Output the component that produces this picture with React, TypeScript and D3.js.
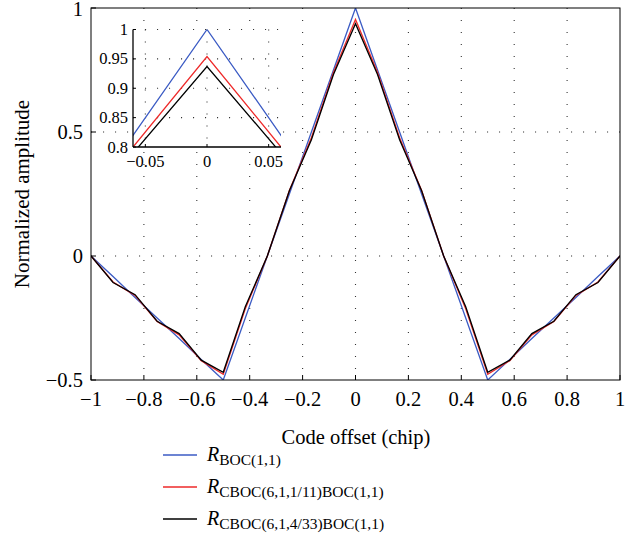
import React from 'react';
import * as d3 from 'd3';

// code offset grid (chip), kinks every 1/12 chip
const tau = [-1, -0.9167, -0.8333, -0.75, -0.6667, -0.5833, -0.5, -0.4167, -0.3333, -0.25, -0.1667, -0.0833, 0,
  0.0833, 0.1667, 0.25, 0.3333, 0.4167, 0.5, 0.5833, 0.6667, 0.75, 0.8333, 0.9167, 1];

const rBoc = [0, -0.083, -0.167, -0.25, -0.333, -0.417, -0.5, -0.25, 0, 0.25, 0.5, 0.75, 1,
  0.75, 0.5, 0.25, 0, -0.25, -0.5, -0.417, -0.333, -0.25, -0.167, -0.083, 0];

const rCboc11 = [0, -0.105, -0.159, -0.264, -0.318, -0.422, -0.477, -0.213, 0, 0.264, 0.477, 0.740, 0.954,
  0.740, 0.477, 0.264, 0, -0.213, -0.477, -0.422, -0.318, -0.264, -0.159, -0.105, 0];

const rCboc433 = [0, -0.107, -0.156, -0.263, -0.313, -0.420, -0.469, -0.205, 0, 0.263, 0.469, 0.732, 0.937,
  0.732, 0.469, 0.263, 0, -0.205, -0.469, -0.420, -0.313, -0.263, -0.156, -0.107, 0];

const xTicks = [-1, -0.8, -0.6, -0.4, -0.2, 0, 0.2, 0.4, 0.6, 0.8, 1];
const yTicks = [-0.5, 0, 0.5, 1];
const insetXTicks = [-0.05, 0, 0.05];
const insetYTicks = [0.8, 0.85, 0.9, 0.95, 1];

const series = [
  { name: 'BOC(1,1)', values: rBoc, color: '#3b5bc4' },
  { name: 'CBOC(6,1,1/11)BOC(1,1)', values: rCboc11, color: '#ee2a2a' },
  { name: 'CBOC(6,1,4/33)BOC(1,1)', values: rCboc433, color: '#000000' },
];

const FONT = '"Liberation Serif", "Times New Roman", serif';
const fmt = (v: number) => (v < 0 ? '\u2212' + String(-v) : String(v));

export default function App() {
  const x = d3.scaleLinear().domain([-1, 1]).range([91, 620]);
  const y = d3.scaleLinear().domain([-0.5, 1]).range([380, 8]);
  const ix = d3.scaleLinear().domain([-0.06, 0.06]).range([133, 281]);
  const iy = d3.scaleLinear().domain([0.8, 1]).range([147, 29.5]);

  const mainLine = (vals: number[]) =>
    d3.line<number>().x((_, i) => x(tau[i])).y(d => y(d))(vals) || '';
  const insetLine = (vals: number[]) =>
    d3.line<number>().x((_, i) => ix(tau[i])).y(d => iy(d))(vals) || '';

  const grid = { stroke: '#333', strokeWidth: 1.1, strokeDasharray: '1.1,10.9' };

  return (
    <svg width={640} height={552} style={{ position: 'fixed', left: 0, top: 0, background: '#fff' }}
      fontFamily={FONT}>
      <defs>
        <clipPath id="mainClip"><rect x={91} y={8} width={529} height={372} /></clipPath>
        <clipPath id="insetClip"><rect x={133} y={29.5} width={148} height={117.5} /></clipPath>
      </defs>
      <rect width={640} height={552} fill="#fff" />

      {/* main grid */}
      {xTicks.slice(1, -1).map(t => (
        <line key={'gx' + t} x1={x(t)} x2={x(t)} y1={y(1)} y2={y(-0.5)} {...grid} />
      ))}
      {[0, 0.5].map(t => (
        <line key={'gy' + t} x1={x(-1)} x2={x(1)} y1={y(t)} y2={y(t)} {...grid} />
      ))}

      {/* main curves */}
      <g clipPath="url(#mainClip)">
        {series.map(s => (
          <path key={s.name} d={mainLine(s.values)} fill="none" stroke={s.color} strokeWidth={1.3} />
        ))}
      </g>

      {/* main box & ticks */}
      <rect x={91} y={8} width={529} height={372} fill="none" stroke="#000" strokeWidth={1} />
      {xTicks.map(t => (
        <g key={'xt' + t}>
          <line x1={x(t)} x2={x(t)} y1={380} y2={375} stroke="#000" />
          <text x={x(t)} y={406} textAnchor="middle" fontSize={20.5}>{fmt(t)}</text>
        </g>
      ))}
      {yTicks.map(t => (
        <g key={'yt' + t}>
          <line x1={91} x2={96} y1={y(t)} y2={y(t)} stroke="#000" />
          <text x={83} y={y(t) + (t === 1 ? 7.5 : 7)} textAnchor="end" fontSize={20.5}>{fmt(t)}</text>
        </g>
      ))}
      <text x={356} y={444} textAnchor="middle" fontSize={20.5}>Code offset (chip)</text>
      <text transform={`translate(29,${(8 + 380) / 2}) rotate(-90)`} textAnchor="middle" fontSize={21}>
        Normalized amplitude
      </text>

      {/* inset */}
      <rect x={133} y={29.5} width={148} height={117.5} fill="#fff" />
      {insetXTicks.map(t => (
        <line key={'igx' + t} x1={ix(t)} x2={ix(t)} y1={iy(1)} y2={iy(0.8)} {...grid} />
      ))}
      {insetYTicks.slice(1).map(t => (
        <line key={'igy' + t} x1={ix(-0.06)} x2={ix(0.06)} y1={iy(t)} y2={iy(t)} {...grid} />
      ))}
      <g clipPath="url(#insetClip)">
        {series.map(s => (
          <path key={'i' + s.name} d={insetLine(s.values)} fill="none" stroke={s.color} strokeWidth={1.3} />
        ))}
      </g>
      <line x1={133} x2={133} y1={29.5} y2={147} stroke="#000" strokeWidth={1.3} />
      <line x1={133} x2={281} y1={147} y2={147} stroke="#000" strokeWidth={1.3} />
      {insetXTicks.map(t => (
        <g key={'ixt' + t}>
          <line x1={ix(t)} x2={ix(t)} y1={147} y2={144} stroke="#000" />
          <text x={ix(t)} y={167} textAnchor="middle" fontSize={16.5}>{fmt(t)}</text>
        </g>
      ))}
      {insetYTicks.map(t => (
        <g key={'iyt' + t}>
          <line x1={133} x2={136} y1={iy(t)} y2={iy(t)} stroke="#000" />
          <text x={128} y={iy(t) + 5.5} textAnchor="end" fontSize={16.5}>{fmt(t)}</text>
        </g>
      ))}

      {/* legend */}
      {series.map((s, i) => {
        const ly = 455 + i * 32;
        return (
          <g key={'lg' + s.name}>
            <line x1={163} x2={197} y1={ly} y2={ly} stroke={s.color} strokeWidth={1.3} />
            <text x={207} y={ly + 6} fontSize={20}>
              <tspan fontStyle="italic">R</tspan>
              <tspan fontSize={15.5} dy={4}>{s.name}</tspan>
            </text>
          </g>
        );
      })}
    </svg>
  );
}
